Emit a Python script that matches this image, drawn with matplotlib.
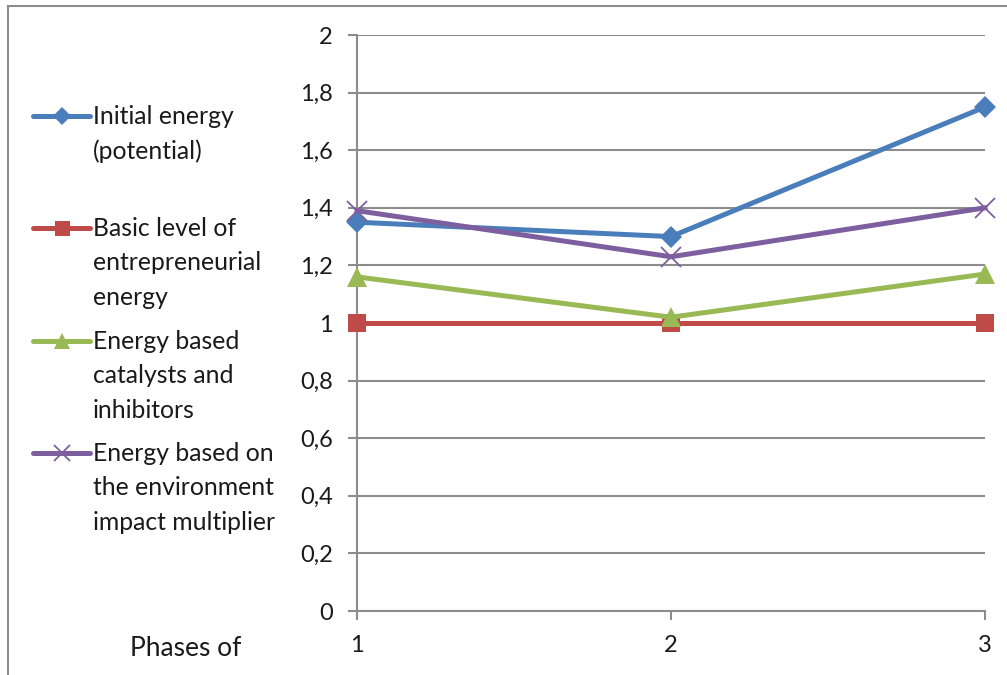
import matplotlib.pyplot as plt
from matplotlib.lines import Line2D
from matplotlib.ticker import FuncFormatter

plt.rcParams['font.family'] = ['Lato', 'DejaVu Sans']

# Données des phases
phases = [1, 2, 3]
initial_energy = [1.35, 1.30, 1.75]
basic_level = [1.00, 1.00, 1.00]
catalysts_inhibitors = [1.16, 1.02, 1.17]
environment_multiplier = [1.39, 1.23, 1.40]

labels = [
    "Initial energy\n(potential)",
    "Basic level of\nentrepreneurial\nenergy",
    "Energy based\ncatalysts and\ninhibitors",
    "Energy based on\nthe environment\nimpact multiplier",
]
series = [initial_energy, basic_level, catalysts_inhibitors, environment_multiplier]
couleurs = ["#4A7EBB", "#BE4B48", "#98B954", "#7D5FA0"]
marqueurs = [
    dict(marker="D", markersize=11.5, markeredgewidth=0),
    dict(marker="s", markersize=13.5, markeredgewidth=0),
    dict(marker="^", markersize=15, markeredgewidth=0),
    dict(marker="x", markersize=14, markeredgewidth=1.3),
]

W, H = 1007, 675
fig = plt.figure(figsize=(W / 100, H / 100), dpi=100)
gris = "#8C8C8C"

# Cadre du graphique (coin haut-gauche)
fig.add_artist(Line2D([8 / W, 8 / W], [0, 1 - 6 / H], color=gris, lw=1.5))
fig.add_artist(Line2D([8 / W, 1], [1 - 6 / H, 1 - 6 / H], color=gris, lw=1.5))

ax = fig.add_axes([357 / W, 1 - 611 / H, (985 - 357) / W, (611 - 35) / H])
for vals, c, m in zip(series, couleurs, marqueurs):
    ax.plot(phases, vals, color=c, lw=3.6, clip_on=False, zorder=3,
            markerfacecolor=c, markeredgecolor=c, **m)

ax.set_xlim(1, 3)
ax.set_ylim(0, 2)
ax.set_xticks(phases)
ax.set_yticks([i * 0.2 for i in range(11)])
ax.yaxis.set_major_formatter(FuncFormatter(lambda v, p: f"{v:g}".replace(".", ",")))
ax.grid(axis="y", color=gris, lw=1.5)
ax.set_axisbelow(True)
for s in ["top", "right"]:
    ax.spines[s].set_visible(False)
for s in ["left", "bottom"]:
    ax.spines[s].set_color(gris)
    ax.spines[s].set_linewidth(1.5)
ax.tick_params(axis="both", colors=gris, width=1.5, length=6.5, labelsize=17,
               labelcolor="#1a1a1a")
ax.tick_params(axis="y", pad=11)
ax.tick_params(axis="x", pad=11)

fig.text(130 / W, 1 - 648 / H, "Phases of", fontsize=19, color="#1a1a1a",
         ha="left", va="center")

# Légende à gauche
leg = fig.add_axes([0, 0, 1, 1], zorder=-1)
leg.set_xlim(0, W)
leg.set_ylim(H, 0)
leg.axis("off")
y_entrees = [116, 228, 341, 453]
for y, lab, c, m in zip(y_entrees, labels, couleurs, marqueurs):
    mm = dict(m)
    mm["markersize"] = m["markersize"] * 0.8
    leg.plot([33, 90], [y, y], color=c, lw=3.6, solid_capstyle="round")
    leg.plot([61.5], [y], color=c, markerfacecolor=c, markeredgecolor=c, **mm)
    leg.text(93, y - 11, lab, fontsize=17.8, color="#1a1a1a", ha="left", va="top",
             linespacing=1.6)

fig.savefig("out.png", dpi=100)
